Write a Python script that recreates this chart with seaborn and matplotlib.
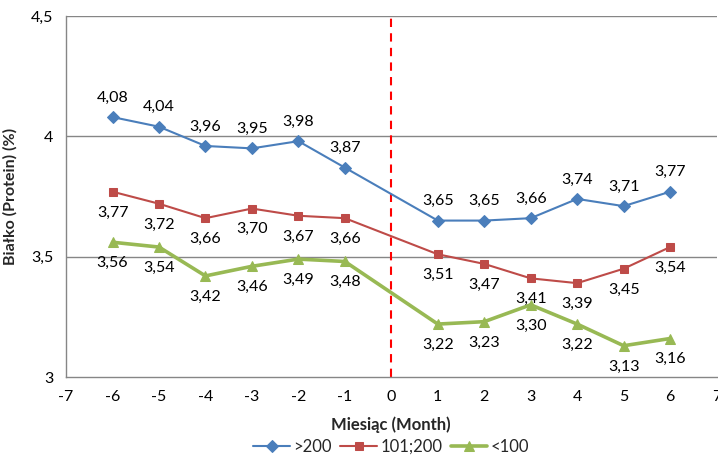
import matplotlib
matplotlib.use("Agg")
import matplotlib.pyplot as plt
import matplotlib.ticker as mticker
import seaborn as sns
import pandas as pd

months = [-6, -5, -4, -3, -2, -1, 1, 2, 3, 4, 5, 6]
herd_gt200 = [4.08, 4.04, 3.96, 3.95, 3.98, 3.87, 3.65, 3.65, 3.66, 3.74, 3.71, 3.77]
herd_101_200 = [3.77, 3.72, 3.66, 3.70, 3.67, 3.66, 3.51, 3.47, 3.41, 3.39, 3.45, 3.54]
herd_lt100 = [3.56, 3.54, 3.42, 3.46, 3.49, 3.48, 3.22, 3.23, 3.30, 3.22, 3.13, 3.16]
series_names = [">200", "101;200", "<100"]
x_ticks = list(range(-7, 8))
y_ticks = [3, 3.5, 4, 4.5]

sns.set_theme(style="white")
plt.rcParams["font.family"] = ["Lato", "DejaVu Sans"]

fig = plt.figure(figsize=(7.18, 4.57), dpi=100)
ax = fig.add_axes([0.092, 0.175, 0.906, 0.79])

styles = [
    (herd_gt200, "#4A7EBB", "D", 6, 1.5, 14),
    (herd_101_200, "#BE4B48", "s", 6, 1.5, -15),
    (herd_lt100, "#98B954", "^", 7, 2.6, -15),
]

for name, (vals, color, marker, ms, lw, dy) in zip(series_names, styles):
    df = pd.DataFrame({"month": months, "value": vals})
    sns.lineplot(data=df, x="month", y="value", ax=ax, color=color, marker=marker,
                 markersize=ms, markeredgecolor=color, linewidth=lw, label=name,
                 estimator=None, sort=False)
    for m, v in zip(months, vals):
        ax.annotate(f"{v:.2f}".replace(".", ","), (m, v), xytext=(0, dy),
                    textcoords="offset points", ha="center", va="center",
                    fontsize=11.5, color="#000000")

ax.axvline(0, color="#FF0000", linestyle=(0, (4, 3)), linewidth=1.5, zorder=1)

ax.set_xlim(-7, 7)
ax.set_ylim(3, 4.5)
ax.set_xticks(x_ticks)
ax.set_yticks(y_ticks)
ax.xaxis.set_major_formatter(mticker.FuncFormatter(lambda v, p: f"{v:g}"))
ax.yaxis.set_major_formatter(mticker.FuncFormatter(lambda v, p: f"{v:g}".replace(".", ",")))
ax.tick_params(axis="both", which="major", direction="out", length=5, width=1,
               color="#868686", labelsize=11.5, labelcolor="#000000", pad=4)

for y in y_ticks[1:]:
    ax.axhline(y, color="#868686", linewidth=1, zorder=0)

for s in ["top", "right"]:
    ax.spines[s].set_visible(False)
for s in ["left", "bottom"]:
    ax.spines[s].set_color("#868686")
    ax.spines[s].set_linewidth(1)

ax.set_xlabel("Miesiąc (Month)", fontsize=12, fontweight="bold", labelpad=9)
ax.set_ylabel("Białko (Protein) (%)", fontsize=11.5, fontweight="bold", labelpad=10)

ax.legend(loc="center", bbox_to_anchor=(0.5, -0.193), ncol=3, frameon=False,
          fontsize=12, handlelength=2.2, handletextpad=0.2, columnspacing=0.5,
          borderpad=0.1)

fig.savefig("out.png", dpi=100)
